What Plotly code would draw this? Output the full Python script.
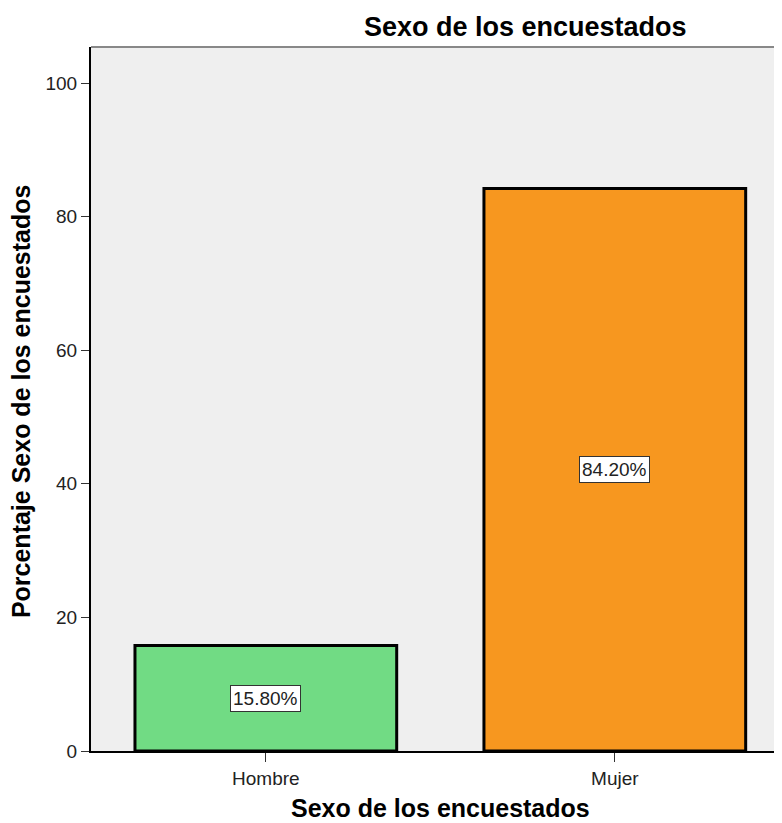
import plotly.graph_objects as go

categories = ["Hombre", "Mujer"]
percentages = [15.80, 84.20]
bar_colors = ["#71DB84", "#F7971F"]
label_texts = ["15.80%", "84.20%"]
y_ticks = [0, 20, 40, 60, 80, 100]

title_text = "Sexo de los encuestados"
x_title = "Sexo de los encuestados"
y_title = "Porcentaje Sexo de los encuestados"

FONT = "Liberation Sans, Arial, sans-serif"

fig = go.Figure()
fig.add_trace(go.Bar(
    x=categories,
    y=percentages,
    width=0.75,
    marker=dict(color=bar_colors, line=dict(color="black", width=3)),
    showlegend=False,
    hoverinfo="skip",
))

for c, v, t in zip(categories, percentages, label_texts):
    fig.add_annotation(
        x=c, y=v / 2, xref="x", yref="y", text=t, showarrow=False,
        font=dict(family=FONT, size=19, color="#222"),
        bgcolor="white", bordercolor="#333", borderwidth=1, borderpad=2,
    )

# main title (page x ~525)
fig.add_annotation(
    x=(525 - 91) / 699, y=1.028, xref="paper", yref="paper", text="<b>" + title_text + "</b>",
    showarrow=False, xanchor="center", yanchor="middle",
    font=dict(family=FONT, size=27, color="black"),
)
# x axis title (page x ~440)
fig.add_annotation(
    x=(440 - 91) / 699, y=-0.081, xref="paper", yref="paper", text="<b>" + x_title + "</b>",
    showarrow=False, xanchor="center", yanchor="middle",
    font=dict(family=FONT, size=25, color="black"),
)
# y axis title
fig.add_annotation(
    x=(21 - 91) / 699, y=0.497, xref="paper", yref="paper", text="<b>" + y_title + "</b>",
    showarrow=False, xanchor="center", yanchor="middle", textangle=-90,
    font=dict(family=FONT, size=25, color="black"),
)

# top border
fig.add_shape(type="line", xref="paper", yref="paper", x0=0, x1=1, y0=1, y1=1,
              line=dict(color="#888888", width=2))

fig.update_layout(
    width=782, height=815,
    margin=dict(l=83, r=0, t=39, b=72),
    paper_bgcolor="white",
    plot_bgcolor="#EFEFEF",
    font=dict(family=FONT, size=19, color="#222"),
    xaxis=dict(
        range=[-0.501, 1.502],
        showgrid=False, zeroline=False,
        showline=True, linecolor="black", linewidth=2,
        ticks="outside", ticklen=9, tickcolor="#333", tickwidth=1,
        tickfont=dict(family=FONT, size=19, color="#222"),
    ),
    yaxis=dict(
        range=[0, 105.4],
        tickvals=y_ticks,
        showgrid=False, zeroline=False,
        showline=True, linecolor="black", linewidth=2,
        ticks="outside", ticklen=8, tickcolor="#333", tickwidth=1,
        tickfont=dict(family=FONT, size=19, color="#222"),
    ),
    bargap=0.25,
)

fig.write_html("out.html")
